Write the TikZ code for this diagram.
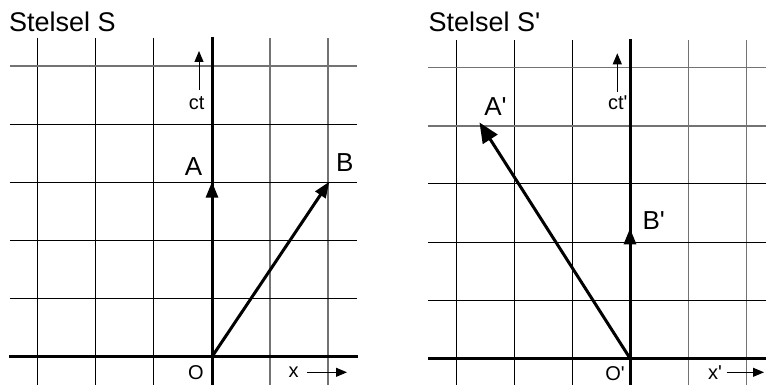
\documentclass[tikz,border=0pt]{standalone}
\usepackage{fontspec}
\setmainfont{Liberation Sans}
\usetikzlibrary{arrows.meta}
\tikzset{
  gridblk/.style={line width=1pt, black},
  gridgry/.style={line width=1.5pt, black!55},
  axis/.style={line width=3pt, black},
  vec/.style={line width=3pt, black, -{Triangle[length=16pt,width=12pt]}},
  bigvec/.style={line width=3pt, black, -{Triangle[length=20pt,width=17pt]}},
  small/.style={line width=1pt, black, -{Triangle[length=11pt,width=9pt]}},
  title/.style={anchor=base west, inner sep=0pt, font=\fontsize{27}{30}\selectfont},
  lab/.style={anchor=base, inner sep=0pt, font=\fontsize{26}{28}\selectfont},
  slab/.style={anchor=base, inner sep=0pt, font=\fontsize{20}{22}\selectfont},
}
\begin{document}
\begin{tikzpicture}[x=1pt,y=-1pt]
\useasboundingbox (0,0) rectangle (766,385);
% ---------- left panel ----------
\foreach \x in {37.7,95.8,153.9} \draw[gridblk] (\x,38) -- (\x,385);
\foreach \x in {270.1,328.2} \draw[gridgry] (\x,38) -- (\x,385);
\draw[gridgry] (10,66.2) -- (357,66.2);
\foreach \y in {124.3,182.4,240.5,298.6} \draw[gridblk] (10,\y) -- (357,\y);
\draw[axis] (212,37) -- (212,385);
\draw[axis] (9,356.7) -- (358,356.7);
\coordinate (O1) at (212,356.7);
\coordinate (A) at (212,181.7);
\coordinate (B) at (329.3,181.7);
\draw[vec] (O1) -- (A);
\draw[vec] (O1) -- (B);
\coordinate (ct1s) at (199,90);
\coordinate (ct1e) at (199,51);
\draw[small] (ct1s) -- (ct1e);
\coordinate (x1s) at (307,372.3);
\coordinate (x1e) at (347,372.3);
\draw[small] (x1s) -- (x1e);
\node[title] (t1) at (9,31.7) {Stelsel S};
\node[slab] (ct1) at (196.7,109.3) {ct};
\node[lab] (lA) at (193.6,175.2) {A};
\node[lab] (lB) at (344.7,171.7) {B};
\node[slab] (lO) at (195.8,379.6) {O};
\node[slab] (lx) at (293.7,377.3) {x};
% ---------- right panel ----------
\foreach \x in {456.2,514.3,572.4} \draw[gridblk] (\x,40) -- (\x,385);
\foreach \x in {688.3,746.5} \draw[gridgry] (\x,40) -- (\x,385);
\foreach \y in {67.7,125.8} \draw[gridgry] (428,\y) -- (766,\y);
\foreach \y in {183.9,242.0,300.2} \draw[gridblk] (428,\y) -- (766,\y);
\draw[axis] (630,39) -- (630,385);
\draw[axis] (428,358.3) -- (766,358.3);
\coordinate (O2) at (630,358.3);
\coordinate (A2) at (479.5,122.5);
\coordinate (B2) at (630,228.3);
\draw[bigvec] (O2) -- (A2);
\draw[vec] (O2) -- (B2);
\coordinate (ct2s) at (617.3,91.7);
\coordinate (ct2e) at (617.3,53.3);
\draw[small] (ct2s) -- (ct2e);
\coordinate (x2s) at (726.7,372.3);
\coordinate (x2e) at (764,372.3);
\draw[small] (x2s) -- (x2e);
\node[title] (t2) at (428.3,31.7) {Stelsel S\textquotesingle};
\node[slab] (ct2) at (617.8,110) {ct\textquotesingle};
\node[lab] (lA2) at (495.5,116) {A\textquotesingle};
\node[lab] (lB2) at (653.7,229) {B\textquotesingle};
\node[slab] (lO2) at (615,380) {O\textquotesingle};
\node[slab] (lx2) at (715,379.3) {x\textquotesingle};
\end{tikzpicture}
\end{document}
